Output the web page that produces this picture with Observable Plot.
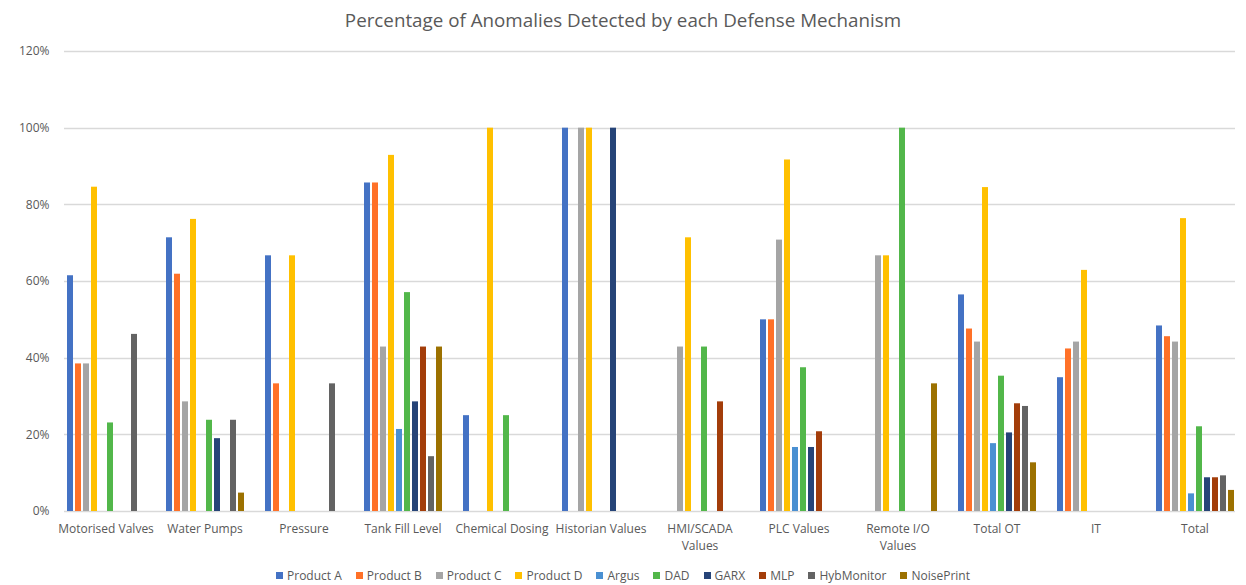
<!DOCTYPE html>
<html>
<head>
<meta charset="utf-8">
<script src="https://cdn.jsdelivr.net/npm/d3@7"></script>
<script src="https://cdn.jsdelivr.net/npm/@observablehq/plot@0.6"></script>
<style>
  html, body { margin: 0; padding: 0; background: #fff; }
  body { width: 1246px; height: 585px; overflow: hidden; font-family: "Open Sans", sans-serif; color: #595959; }
  #title { height: 40px; line-height: 40px; text-align: center; font-size: 18.8px; color: #595959; }
  #legend { display: flex; justify-content: center; align-items: center; gap: 14px; margin-top: 5px; height: 18px; font-size: 12px; color: #595959; }
  #legend .item { display: flex; align-items: center; gap: 4px; }
  #legend .sw { width: 7px; height: 7px; display: inline-block; }
</style>
</head>
<body>
<div id="title">Percentage of Anomalies Detected by each Defense Mechanism</div>
<div id="chart"></div>
<div id="legend"></div>
<script>
const categories = ["Motorised Valves","Water Pumps","Pressure","Tank Fill Level","Chemical Dosing","Historian Values","HMI/SCADA Values","PLC Values","Remote I/O Values","Total OT","IT","Total"];
const series = ["Product A","Product B","Product C","Product D","Argus","DAD","GARX","MLP","HybMonitor","NoisePrint"];
const colors = ["#4472C4","#FF7128","#A5A5A5","#FFC000","#4A90D2","#52B74A","#264478","#A33D0A","#636363","#9C7100"];

const productA   = [61.5, 71.4, 66.7, 85.7, 25,  100, 0,    50,   0,    56.5, 34.9, 48.4];
const productB   = [38.5, 61.9, 33.3, 85.7, 0,   0,   0,    50,   0,    47.6, 42.4, 45.6];
const productC   = [38.5, 28.6, 0,    42.9, 0,   100, 42.9, 70.8, 66.7, 44.2, 44.2, 44.2];
const productD   = [84.6, 76.2, 66.7, 92.9, 100, 100, 71.4, 91.7, 66.7, 84.5, 62.9, 76.4];
const argus      = [0,    0,    0,    21.4, 0,   0,   0,    16.7, 0,    17.7, 0,    4.6];
const dad        = [23.1, 23.8, 0,    57.1, 25,  0,   42.9, 37.5, 100,  35.3, 0,    22.1];
const garx       = [0,    19.0, 0,    28.6, 0,   100, 0,    16.7, 0,    20.5, 0,    8.8];
const mlp        = [0,    0,    0,    42.9, 0,   0,   28.6, 20.8, 0,    28.1, 0,    8.8];
const hybMonitor = [46.2, 23.8, 33.3, 14.3, 0,   0,   0,    0,    0,    27.4, 0,    9.3];
const noisePrint = [0,    4.8,  0,    42.9, 0,   0,   0,    0,    33.3, 12.7, 0,    5.5];

const yTicks = [0, 20, 40, 60, 80, 100, 120];
const wrapped = {"HMI/SCADA Values": "HMI/SCADA\nValues", "Remote I/O Values": "Remote I/O\nValues"};

const seriesValues = [productA, productB, productC, productD, argus, dad, garx, mlp, hybMonitor, noisePrint];
const rows = [];
series.forEach((s, i) => categories.forEach((c, j) => {
  rows.push({category: c, series: s, value: seriesValues[i][j]});
}));
const data = rows.filter(d => d.value > 0);

// Continuous horizontal gridlines across the whole frame, placed with Plot's y scale
const fullGrid = Plot.frame({
  facet: "super",
  render(index, scales, values, dimensions) {
    const g = d3.create("svg:g").attr("stroke", "#d9d9d9").attr("stroke-width", 1.5);
    for (const t of yTicks) {
      const yy = Math.round(scales.y(t)) + 0.5;
      g.append("line")
        .attr("x1", dimensions.marginLeft).attr("x2", dimensions.width - dimensions.marginRight - 1)
        .attr("y1", yy).attr("y2", yy);
    }
    return g.node();
  }
});

const chart = Plot.plot({
  width: 1246,
  height: 521,
  marginLeft: 55,
  marginRight: 0,
  marginTop: 11,
  marginBottom: 50,
  style: {fontFamily: "Open Sans, sans-serif", fontSize: "12px", color: "#595959", background: "#fff"},
  fx: {domain: categories, paddingInner: 0.16, paddingOuter: 0.08, label: null},
  x: {domain: series, paddingInner: 0.25, paddingOuter: 0, axis: null},
  y: {domain: [0, 120], label: null},
  color: {domain: series, range: colors},
  marks: [
    fullGrid,
    Plot.axisY(yTicks, {tickSize: 0, tickPadding: 15, tickFormat: d => d + "%", label: null, fill: "#595959", fontSize: 12}),
    Plot.axisFx({anchor: "bottom", tickSize: 0, tickPadding: 10, label: null, tickFormat: d => wrapped[d] || d, lineHeight: 1.4, fill: "#595959", fontSize: 12}),
    Plot.barY(data, {fx: "category", x: "series", y: "value", fill: "series"})
  ]
});
document.getElementById("chart").appendChild(chart);

const legend = document.getElementById("legend");
series.forEach((s, i) => {
  const item = document.createElement("div");
  item.className = "item";
  const sw = document.createElement("span");
  sw.className = "sw";
  sw.style.background = colors[i];
  const t = document.createElement("span");
  t.textContent = s;
  item.appendChild(sw);
  item.appendChild(t);
  legend.appendChild(item);
});
</script>
</body>
</html>
